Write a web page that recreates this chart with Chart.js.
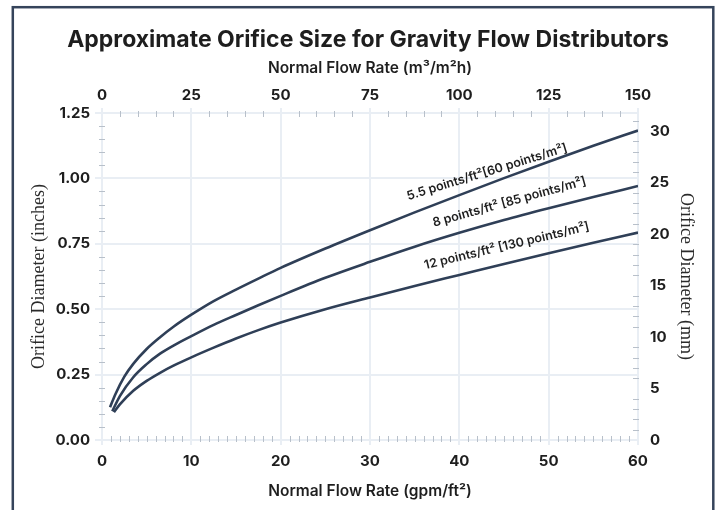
<!DOCTYPE html>
<html>
<head>
<meta charset="utf-8">
<script src="https://cdn.jsdelivr.net/npm/chart.js@4.4.1/dist/chart.umd.min.js"></script>
<style>
  html, body { margin: 0; padding: 0; background: #ffffff; }
  #wrap { width: 718px; height: 510px; }
</style>
</head>
<body>
<div id="wrap"><canvas id="c" width="718" height="510"></canvas></div>
<script>
// ---- data ----
const chartTitle = 'Approximate Orifice Size for Gravity Flow Distributors';
const bottomAxisTitle = 'Normal Flow Rate (gpm/ft²)';
const topAxisTitle = 'Normal Flow Rate (m³/m²h)';
const leftAxisTitle = 'Orifice Diameter (inches)';
const rightAxisTitle = 'Orifice Diameter (mm)';

// 5.5 points/ft² curve (gpm/ft², inches)
const flow55 = [0.9, 1.5, 2.5, 3.5, 5, 6.5, 8, 10, 12.5, 15, 17.5, 20, 25, 30, 35, 40, 45, 50, 55, 60];
const dia55  = [0.125, 0.175, 0.242, 0.291, 0.348, 0.393, 0.433, 0.479, 0.531, 0.575, 0.617, 0.658, 0.732, 0.802, 0.870, 0.936, 1.001, 1.064, 1.125, 1.183];
// 8 points/ft² curve
const flow8 = [1.15, 2, 3.5, 5, 6.5, 8, 10, 12.5, 15, 17.5, 20, 25, 30, 35, 40, 45, 50, 55, 60];
const dia8  = [0.110, 0.168, 0.240, 0.290, 0.330, 0.361, 0.397, 0.440, 0.478, 0.515, 0.551, 0.620, 0.681, 0.739, 0.792, 0.841, 0.886, 0.929, 0.971];
// 12 points/ft² curve
const flow12 = [1.34, 2, 3.5, 5, 6.5, 8, 10, 12.5, 15, 17.5, 20, 25, 30, 35, 40, 45, 50, 55, 60];
const dia12  = [0.106, 0.136, 0.188, 0.226, 0.257, 0.284, 0.316, 0.353, 0.388, 0.420, 0.449, 0.500, 0.545, 0.589, 0.631, 0.673, 0.714, 0.754, 0.793];

const curveLabels = ['5.5 points/ft²[60 points/m²]', '8 points/ft² [85 points/m²]', '12 points/ft² [130 points/m²]'];
const labelFlow = [43.1, 45.6, 45.3];
const labelDia  = [1.024, 0.910, 0.742];
const labelAngleDeg = [17, 15.5, 13.4];

// axis ranges / tick steps
const flowMax = 60, flowStep = 10, flowMinorStep = 1;
const metricFlowMax = 150, metricFlowStep = 25, metricFlowMinorStep = 5;
const diaMax = 1.25, diaStep = 0.25, diaMinorStep = 0.05;
const mmMax = 31.75, mmStep = 5, mmMinorStep = 1;

// ---- styling ----
const lineColor = '#2f3f57';
const gridColor = '#e9eef4';
const minorColor = '#b8c0ca';
const textColor = '#1e1e1e';
const sansFamily = 'Inter, Lato, sans-serif';
const serifFamily = '"Liberation Serif", "DejaVu Serif", serif';

function pts(xs, ys) { return xs.map((x, i) => ({ x: x, y: ys[i] })); }

const frameAndBg = {
  id: 'frameAndBg',
  beforeDraw(chart) {
    const ctx = chart.ctx;
    ctx.save();
    ctx.fillStyle = '#ffffff';
    ctx.fillRect(0, 0, chart.width, chart.height);
    ctx.restore();
  },
  afterDraw(chart) {
    const ctx = chart.ctx;
    ctx.save();
    ctx.strokeStyle = '#35445b';
    ctx.lineWidth = 2.5;
    ctx.strokeRect(12.8, 7.2, 700.5, 530);
    ctx.restore();
  }
};

const minorTicks = {
  id: 'minorTicks',
  afterDraw(chart) {
    const ctx = chart.ctx;
    const a = chart.chartArea;
    const sx = chart.scales.x, sx2 = chart.scales.x2, sy = chart.scales.y, sr = chart.scales.yR;
    ctx.save();
    ctx.strokeStyle = minorColor;
    ctx.lineWidth = 1;
    ctx.beginPath();
    const nx = Math.round(flowMax / flowMinorStep), rx = Math.round(flowStep / flowMinorStep);
    for (let i = 1; i < nx; i++) {
      if (i % rx === 0) continue;
      const p = Math.round(sx.getPixelForValue(i * flowMinorStep)) + 0.5;
      ctx.moveTo(p, a.bottom - 4); ctx.lineTo(p, a.bottom + 2);
    }
    const nx2 = Math.round(metricFlowMax / metricFlowMinorStep), rx2 = Math.round(metricFlowStep / metricFlowMinorStep);
    for (let i = 1; i < nx2; i++) {
      if (i % rx2 === 0) continue;
      const p = Math.round(sx2.getPixelForValue(i * metricFlowMinorStep)) + 0.5;
      ctx.moveTo(p, a.top - 2); ctx.lineTo(p, a.top + 4);
    }
    const ny = Math.round(diaMax / diaMinorStep), ry = Math.round(diaStep / diaMinorStep);
    for (let i = 1; i < ny; i++) {
      if (i % ry === 0) continue;
      const p = Math.round(sy.getPixelForValue(i * diaMinorStep)) + 0.5;
      ctx.moveTo(a.left - 3, p); ctx.lineTo(a.left + 3, p);
    }
    const nr = Math.floor(mmMax / mmMinorStep), rr = Math.round(mmStep / mmMinorStep);
    for (let i = 1; i <= nr; i++) {
      if (i % rr === 0) continue;
      const p = Math.round(sr.getPixelForValue(i * mmMinorStep)) + 0.5;
      ctx.moveTo(a.right - 5, p); ctx.lineTo(a.right + 1, p);
    }
    ctx.stroke();
    ctx.restore();
  }
};

const curveLabelPlugin = {
  id: 'curveLabels',
  afterDatasetsDraw(chart) {
    const ctx = chart.ctx;
    const sx = chart.scales.x, sy = chart.scales.y;
    ctx.save();
    ctx.fillStyle = textColor;
    ctx.font = '600 12.5px ' + sansFamily;
    ctx.textAlign = 'center';
    ctx.textBaseline = 'middle';
    curveLabels.forEach((t, i) => {
      const px = sx.getPixelForValue(labelFlow[i]);
      const py = sy.getPixelForValue(labelDia[i]);
      ctx.save();
      ctx.translate(px, py);
      ctx.rotate(-labelAngleDeg[i] * Math.PI / 180);
      ctx.fillText(t, 0, 0);
      ctx.restore();
    });
    ctx.restore();
  }
};

function dataset(xs, ys) {
  return {
    data: pts(xs, ys),
    borderColor: lineColor,
    borderWidth: 2.6,
    pointRadius: 0,
    fill: false,
    cubicInterpolationMode: 'monotone',
    xAxisID: 'x',
    yAxisID: 'y'
  };
}

const tickFont = { family: sansFamily, size: 15, weight: 'bold' };
const axisTitleFont = { family: sansFamily, size: 15.5, weight: '600', lineHeight: 1.2 };

new Chart(document.getElementById('c'), {
  type: 'line',
  data: {
    datasets: [dataset(flow55, dia55), dataset(flow8, dia8), dataset(flow12, dia12)]
  },
  options: {
    responsive: false,
    animation: false,
    devicePixelRatio: 1,
    layout: { padding: { left: 18, right: 0, top: 0, bottom: 0 } },
    plugins: {
      legend: { display: false },
      tooltip: { enabled: false },
      title: {
        display: true,
        text: chartTitle,
        fullSize: true,
        color: textColor,
        font: { family: sansFamily, size: 23, weight: 'bold', lineHeight: 1.2 },
        padding: { top: 26.2, bottom: 0 }
      }
    },
    scales: {
      x: {
        type: 'linear', position: 'bottom', min: 0, max: flowMax,
        ticks: { stepSize: flowStep, color: textColor, font: tickFont, padding: 7, maxRotation: 0 },
        grid: { color: gridColor, lineWidth: 2, tickLength: 5, tickColor: gridColor },
        border: { display: true, color: gridColor, width: 2 },
        title: { display: true, text: bottomAxisTitle, color: textColor, font: axisTitleFont,
                 padding: { top: 0, bottom: 9.5 } },
        afterFit: s => { s.height = 70; }
      },
      x2: {
        type: 'linear', position: 'top', min: 0, max: metricFlowMax,
        ticks: { stepSize: metricFlowStep, color: textColor, font: tickFont, padding: 3.5, maxRotation: 0 },
        grid: { drawOnChartArea: false, color: gridColor, lineWidth: 2, tickLength: 5 },
        border: { display: true, color: gridColor, width: 2 },
        title: { display: true, text: topAxisTitle, color: textColor, font: axisTitleFont,
                 padding: { top: 4.9, bottom: 0 } },
        afterFit: s => { s.height = 59.2; }
      },
      y: {
        type: 'linear', position: 'left', min: 0, max: diaMax,
        ticks: { stepSize: diaStep, color: textColor, font: tickFont, padding: 5,
                 callback: v => v.toFixed(2) },
        grid: { color: gridColor, lineWidth: 2, tickLength: 7, tickColor: gridColor },
        border: { display: true, color: gridColor, width: 2 },
        title: { display: true, text: leftAxisTitle, color: '#2a2a2a',
                 font: { family: serifFamily, size: 18, weight: 'normal', lineHeight: 1.2 },
                 padding: { top: 10.2, bottom: 0 } },
        afterFit: s => { s.width = 84; }
      },
      yR: {
        type: 'linear', position: 'right', min: 0, max: mmMax,
        afterBuildTicks: s => { s.ticks = s.ticks.filter(t => Math.abs(t.value / mmStep - Math.round(t.value / mmStep)) < 1e-9); },
        ticks: { stepSize: mmStep, color: textColor, font: tickFont, padding: 12 },
        grid: { drawOnChartArea: false, drawTicks: false, color: gridColor },
        border: { display: true, color: gridColor, width: 2 },
        title: { display: true, text: rightAxisTitle, color: '#2a2a2a',
                 font: { family: serifFamily, size: 18, weight: 'normal', lineHeight: 1.2 },
                 padding: { top: 21.2, bottom: 0 } },
        afterFit: s => { s.width = 80; }
      }
    }
  },
  plugins: [frameAndBg, minorTicks, curveLabelPlugin]
});
</script>
</body>
</html>
